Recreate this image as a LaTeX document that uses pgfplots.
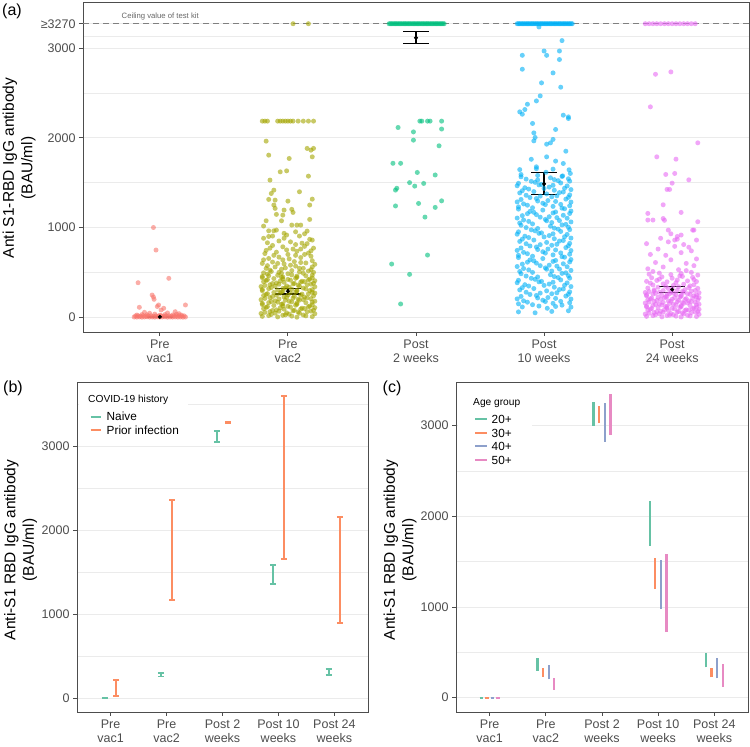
\documentclass[border=0pt]{standalone}
\usepackage{pgfplots}
\pgfplotsset{compat=1.18}
\usepackage{fontspec}
\setmainfont{Liberation Sans}
\definecolor{cA}{HTML}{F8766D}
\definecolor{cB}{HTML}{A3A500}
\definecolor{cC}{HTML}{00BF7D}
\definecolor{cD}{HTML}{00B0F6}
\definecolor{cE}{HTML}{E76BF3}
\definecolor{sG}{HTML}{66C2A5}
\definecolor{sO}{HTML}{FC8D62}
\definecolor{sB}{HTML}{8DA0CB}
\definecolor{sP}{HTML}{E78AC3}
\definecolor{cGrid}{HTML}{EBEBEB}
\definecolor{cFrame}{HTML}{4D4D4D}
\definecolor{cTick}{HTML}{4D4D4D}
\newcommand{\seg}[5]{\addplot[#1,forget plot] coordinates {(#2,#3) (#4,#5)};}
\newcommand{\ebar}[6]{\seg{#1}{#2}{#5}{#2}{#6}\seg{#1}{#3}{#5}{#4}{#5}\seg{#1}{#3}{#6}{#4}{#6}}
\pgfplotsset{
  base/.style={
    scale only axis, xmin=0.4, xmax=5.6, xtick={1,2,3,4,5},
    axis line style={cFrame, line width=0.9pt},
    every tick/.style={cFrame, line width=0.9pt},
    major tick length=4pt, minor tick length=0pt, tick align=outside,
    xtick pos=left, ytick pos=left,
    ymajorgrids, yminorgrids,
    major grid style={cGrid, line width=0.9pt},
    minor grid style={cGrid, line width=0.5pt},
    ticklabel style={font=\fontsize{12.5}{14.3}\selectfont, text=cTick},
    xticklabel style={align=center},
    /pgf/number format/assume math mode=true,
  },
  pts/.style={only marks, color=#1, mark=*, mark size=2.5pt, mark options={draw=#1, fill=#1, draw opacity=0, fill opacity=0.6}, forget plot},
}
\begin{document}
\begin{tikzpicture}[x=1pt,y=1pt]
\path[use as bounding box] (0,0) rectangle (750,747);
% ---------------- panel (a)
\begin{axis}[base, at={(83pt,415pt)}, anchor=south west, width=666pt, height=330pt,
  ymin=-164, ymax=3512, ytick={0,1000,2000,3000,3270}, yticklabels={0,1000,2000,3000,≥3270},
  minor ytick={500,1500,2500,3135},
  xticklabels={Pre\\vac1, Pre\\vac2, Post\\2 weeks, Post\\10 weeks, Post\\24 weeks}]
\addplot[black!50, dash pattern=on 6pt off 4pt, line width=0.9pt, forget plot] coordinates {(0.4,3270) (5.6,3270)};
% Pre vac1
\addplot[pts=cA] coordinates {
(0.80,3)(0.82,2)(0.84,4)(0.86,1)(0.88,3)(0.90,5)(0.92,2)(0.94,3)(0.96,1)(0.98,4)(1.00,2)(1.02,3)(1.04,5)(1.06,1)(1.08,3)(1.10,2)(1.12,4)(1.14,2)(1.16,3)(1.18,1)(1.20,3)
(0.81,14)(0.83,16)(0.85,12)(0.87,18)(0.89,13)(0.91,15)(0.93,17)(0.95,12)(0.97,16)(0.99,14)(1.01,18)(1.03,13)(1.05,15)(1.07,17)(1.09,12)(1.11,16)(1.13,14)(1.15,18)(1.17,13)(1.19,15)
(0.82,25)(0.90,28)(1.00,22)(1.10,26)(1.17,24)(0.86,30)(0.96,35)(1.04,30)(1.13,33)(0.92,45)(1.06,48)(1.15,40)(0.88,55)
(0.95,1000)(0.97,749)(1.07,434)(0.83,385)(0.94,248)(0.95,225)(0.955,200)(0.99,137)(1.20,137)(0.84,111)(1.01,81)(1.12,62)(0.98,120)(1.03,100)
};
% Pre vac2
\addplot[pts=cB] coordinates {
(1.80,10)(1.85,19)(1.92,4)(1.96,22)(2.03,13)(2.07,1)(2.14,16)(2.19,7)
(1.79,42)(1.87,31)(1.90,46)(1.98,27)(2.01,34)(2.09,45)(2.12,25)(2.21,39)
(1.82,55)(1.86,63)(1.93,68)(1.99,49)(2.04,72)(2.08,58)(2.15,62)(2.18,69)
(1.81,96)(1.88,76)(1.91,82)(1.97,90)(2.05,78)(2.10,91)(2.13,97)(2.20,79)
(1.83,110)(1.84,119)(1.94,104)(2.00,122)(2.02,113)(2.11,101)(2.16,116)(2.21,107)
(1.80,142)(1.89,131)(1.95,146)(1.96,127)(2.06,134)(2.07,145)(2.17,125)(2.19,139)
(1.80,155)(1.85,163)(1.92,168)(1.96,149)(2.03,172)(2.07,158)(2.14,162)(2.19,169)
(1.79,196)(1.87,176)(1.90,182)(1.98,190)(2.01,178)(2.09,191)(2.12,197)(2.21,179)
(1.82,210)(1.86,219)(1.93,204)(1.99,222)(2.04,213)(2.08,201)(2.15,216)(2.18,207)
(1.81,242)(1.88,231)(1.91,246)(1.97,227)(2.05,234)(2.10,245)(2.13,225)(2.20,239)
(1.83,255)(1.84,263)(1.94,268)(2.00,249)(2.02,272)(2.11,258)(2.16,262)(2.21,269)
(1.80,296)(1.89,276)(1.95,282)(1.96,290)(2.06,278)(2.07,291)(2.17,297)(2.19,279)
(1.80,310)(1.85,319)(1.92,304)(1.96,322)(2.03,313)(2.07,301)(2.14,316)(2.19,307)
(1.79,342)(1.87,331)(1.90,346)(1.98,327)(2.01,334)(2.09,345)(2.12,325)(2.21,339)
(1.82,355)(1.86,363)(1.93,368)(1.99,349)(2.04,372)(2.08,358)(2.15,362)(2.18,369)
(1.81,396)(1.88,376)(1.91,382)(1.97,390)(2.05,378)(2.10,391)(2.13,397)(2.20,379)
(1.83,410)(1.84,419)(1.94,404)(2.00,422)(2.02,413)(2.11,401)(2.16,416)(2.21,407)
(1.80,442)(1.89,431)(1.95,446)(1.96,427)(2.06,434)(2.07,445)(2.17,425)(2.19,439)
(1.80,455)(1.85,463)(1.92,468)(1.96,449)(2.03,472)(2.07,458)(2.14,462)(2.19,469)
(1.81,495)(1.87,510)(1.95,490)(2.03,520)(2.09,505)(2.16,515)(2.20,500)
(1.83,545)(1.90,560)(1.98,550)(2.06,570)(2.12,545)(2.19,560)
(1.80,600)(1.88,615)(1.97,595)(2.05,620)(2.14,605)(2.21,590)
(1.85,655)(1.93,670)(2.01,650)(2.10,665)(2.18,680)
(1.82,710)(1.91,725)(2.00,700)(2.07,735)(2.16,715)
(1.86,770)(1.96,785)(2.04,760)(2.13,790)(2.20,770)
(1.84,830)(1.93,850)(2.02,840)(2.11,825)(2.19,860)
(1.88,905)(1.99,916)(2.09,905)(2.17,868)(1.81,880)
(1.97,935)(2.06,952)(2.15,960)(1.91,971)
(1.84,480)(1.93,500)(2.00,485)(2.12,490)(2.18,530)(1.86,525)(1.95,535)(2.09,545)(2.02,580)(1.84,575)(1.92,600)(2.10,610)(2.19,630)(1.81,640)(1.96,640)(2.06,690)(1.89,690)(2.13,700)(1.83,745)(1.99,750)(2.10,760)(2.18,740)(1.88,800)(2.06,810)(2.15,820)(1.97,880)(1.85,900)(2.13,930)
(1.85,963)(1.89,963)(2.03,1027)(2.07,1027)(2.10,1027)(2.17,1090)(1.95,1075)(1.81,1016)(1.83,1075)
(1.91,1146)(2.04,1168)(2.03,1202)(1.90,1213)(1.89,1250)(1.90,1305)(2.00,1294)(2.17,1250)(2.19,1316)(2.09,1398)(1.85,1313)(1.87,1379)(1.89,1416)(1.86,1528)(2.16,1572)(1.94,1620)(1.99,1631)(2.19,1787)(2.15,1881)(2.18,1862)(2.20,1881)(2.01,1769)(1.85,1806)(1.83,1962)(1.96,1138)(1.97,1194)
(1.80,2185)(1.82,2185)(1.84,2185)(1.92,2185)(1.94,2185)(1.96,2185)(1.98,2185)(2.00,2185)(2.02,2185)(2.04,2185)(2.08,2185)(2.12,2185)(2.16,2185)(2.20,2185)
(2.04,3270)(2.16,3270)
};
% Post 2 weeks
\addplot[pts=cC] coordinates {
(2.79,3270)(2.81,3270)(2.83,3270)(2.85,3270)(2.87,3270)(2.89,3270)(2.91,3270)(2.93,3270)(2.95,3270)(2.97,3270)(2.99,3270)(3.01,3270)(3.03,3270)(3.05,3270)(3.07,3270)(3.09,3270)(3.11,3270)(3.13,3270)(3.15,3270)(3.17,3270)(3.19,3270)(3.21,3270)
(2.80,3270)(2.82,3270)(2.84,3270)(2.86,3270)(2.88,3270)(2.90,3270)(2.92,3270)(2.94,3270)(2.96,3270)(2.98,3270)(3.00,3270)(3.02,3270)(3.04,3270)(3.06,3270)(3.08,3270)(3.10,3270)(3.12,3270)(3.14,3270)(3.16,3270)(3.18,3270)(3.20,3270)(3.22,3270)
(2.86,2114)(2.98,2065)(2.98,1973)(3.18,1910)(3.20,2097)(3.03,2185)(3.045,2185)(3.09,2185)(3.11,2185)(3.20,2185)(2.82,1715)(2.88,1715)(3.01,1613)(3.15,1585)(2.95,1500)(3.06,1491)(2.99,1461)(2.85,1437)(2.84,1417)(2.84,1240)(3.02,1268)(3.15,1224)(3.20,1297)(3.07,1116)(3.09,693)(2.81,593)(2.95,478)(2.88,148)
};
% Post 10 weeks
\addplot[pts=cD] coordinates {
(3.79,3270)(3.81,3270)(3.83,3270)(3.85,3270)(3.87,3270)(3.89,3270)(3.91,3270)(3.93,3270)(3.95,3270)(3.97,3270)(3.99,3270)(4.01,3270)(4.03,3270)(4.05,3270)(4.07,3270)(4.09,3270)(4.11,3270)(4.13,3270)(4.15,3270)(4.17,3270)(4.19,3270)(4.21,3270)
(3.80,3270)(3.82,3270)(3.84,3270)(3.86,3270)(3.88,3270)(3.90,3270)(3.92,3270)(3.94,3270)(3.96,3270)(3.98,3270)(4.00,3270)(4.02,3270)(4.04,3270)(4.06,3270)(4.08,3270)(4.10,3270)(4.12,3270)(4.14,3270)(4.16,3270)(4.18,3270)(4.20,3270)(4.22,3270)
(3.96,3234)
(4.14,3082)(4.00,2966)(4.02,2918)(4.12,2966)(4.12,2871)(3.83,2918)(3.83,2763)(4.07,2722)(4.13,2563)(3.98,2611)(3.97,2466)(3.94,2410)(3.87,2373)(3.85,2314)(3.81,2288)(3.83,2262)(4.15,2251)(4.19,2232)(4.19,2214)(3.91,2159)(4.09,2092)(3.92,2054)(3.93,2003)(3.92,1965)(4.07,1981)(4.05,1943)(4.02,1928)(4.17,1850)(4.02,1787)(3.90,1760)(4.09,1740)(3.94,1676)(4.15,1713)
(3.80,60)(3.93,50)(4.06,65)(4.19,72)
(3.83,115)(3.96,125)(4.025,100)(4.09,120)(4.21,113)
(3.80,150)(3.87,168)(3.91,140)(4.01,175)(4.07,155)(4.14,135)(4.20,162)
(3.79,205)(3.84,183)(3.95,215)(3.99,190)(4.09,210)(4.13,177)(4.21,203)
(3.82,232)(3.89,254)(3.94,243)(4.03,220)(4.06,262)(4.17,236)(4.19,256)
(3.81,305)(3.86,279)(3.97,269)(4.02,294)(4.10,273)(4.12,309)(4.20,283)
(3.83,330)(3.88,348)(3.92,320)(4.00,355)(4.08,335)(4.15,315)(4.21,342)
(3.79,385)(3.85,363)(3.96,395)(4.04,370)(4.07,390)(4.16,357)(4.18,383)
(3.80,412)(3.90,434)(3.93,423)(3.98,400)(4.11,442)(4.13,416)(4.20,436)
(3.82,485)(3.86,459)(3.95,449)(4.05,474)(4.08,453)(4.14,489)(4.19,463)
(3.81,510)(3.88,528)(3.91,500)(4.02,535)(4.06,515)(4.17,495)(4.21,522)
(3.79,565)(3.84,543)(3.97,575)(4.01,550)(4.10,570)(4.12,537)(4.18,563)
(3.83,592)(3.87,614)(3.94,603)(4.04,580)(4.07,622)(4.15,596)(4.20,616)
(3.80,665)(3.89,639)(3.92,629)(3.99,654)(4.09,633)(4.16,669)(4.21,643)
(3.80,690)(3.87,708)(3.91,680)(4.01,715)(4.07,695)(4.14,675)(4.20,702)
(3.79,745)(3.84,723)(3.95,755)(3.99,730)(4.09,750)(4.13,717)(4.21,743)
(3.82,772)(3.89,794)(3.94,783)(4.03,760)(4.06,802)(4.17,776)(4.19,796)
(3.81,845)(3.86,819)(3.97,809)(4.02,834)(4.10,813)(4.12,849)(4.20,823)
(3.83,870)(3.88,888)(3.92,860)(4.00,895)(4.08,875)(4.15,855)(4.21,882)
(3.79,925)(3.85,903)(3.96,935)(4.04,910)(4.07,930)(4.16,897)(4.18,923)
(3.80,952)(3.90,974)(3.93,963)(3.98,940)(4.11,982)(4.13,956)(4.20,976)
(3.82,1025)(3.86,999)(3.95,989)(4.05,1014)(4.08,993)(4.14,1029)(4.19,1003)
(3.81,1050)(3.88,1068)(3.91,1040)(4.02,1075)(4.06,1055)(4.17,1035)(4.21,1062)
(3.79,1105)(3.84,1083)(3.97,1115)(4.01,1090)(4.10,1110)(4.12,1077)(4.18,1103)
(3.83,1132)(3.87,1154)(3.94,1143)(4.04,1120)(4.07,1162)(4.15,1136)(4.20,1156)
(3.80,1205)(3.89,1179)(3.92,1169)(3.99,1194)(4.09,1173)(4.16,1209)(4.21,1183)
(3.80,1230)(3.87,1248)(3.91,1220)(4.01,1255)(4.07,1235)(4.14,1215)(4.20,1242)
(3.79,1285)(3.84,1263)(3.95,1295)(3.99,1270)(4.09,1290)(4.13,1257)(4.21,1283)
(3.82,1312)(3.89,1334)(3.94,1323)(4.03,1300)(4.06,1342)(4.17,1316)(4.19,1336)
(3.81,1385)(3.86,1359)(3.97,1349)(4.02,1374)(4.10,1353)(4.12,1389)(4.20,1363)
(3.83,1410)(3.88,1428)(3.92,1400)(4.00,1435)(4.08,1415)(4.15,1395)(4.21,1422)
(3.79,1465)(3.85,1443)(3.96,1475)(4.04,1450)(4.07,1470)(4.16,1437)(4.18,1463)
(3.80,1492)(3.90,1514)(3.93,1503)(3.98,1480)(4.11,1522)(4.13,1496)(4.20,1516)
(3.82,1565)(3.86,1539)(3.95,1529)(4.05,1554)(4.08,1533)(4.14,1569)(4.19,1543)
(3.82,1590)(3.95,1580)(4.015,1615)(4.145,1575)(4.205,1602)
(3.81,1645)(3.94,1655)(4.07,1650)(4.195,1643)
};
% Post 24 weeks
\addplot[pts=cE] coordinates {
(4.79,3270)(4.82,3270)(4.85,3270)(4.88,3270)(4.91,3270)(4.94,3270)(4.97,3270)(5.00,3270)(5.03,3270)(5.06,3270)(5.09,3270)(5.12,3270)(5.15,3270)(5.18,3270)
(4.87,2707)(4.99,2733)(4.83,2344)(5.20,1943)(4.88,1787)(5.03,1761)(4.95,1591)(5.02,1602)(5.13,1531)(5.00,1494)(4.96,1424)(4.98,1424)(4.93,1253)(5.07,1168)(4.81,1157)(4.81,1083)(4.85,1083)(4.93,1100)(4.94,1080)(5.20,1064)(5.16,971)(5.17,971)(4.97,971)(4.99,930)(5.02,860)(5.04,900)(5.07,916)
(4.81,540)(4.93,560)(5.05,530)(5.17,575)(4.87,610)(4.99,640)(5.11,600)(5.19,650)(4.83,700)(4.95,690)(5.07,720)(5.15,740)(4.89,760)(5.02,790)(5.13,780)(4.80,820)(4.97,840)(5.09,810)(5.19,860)(4.91,880)(5.04,870)
(4.81,325)(4.89,335)(4.97,320)(5.05,340)(5.13,330)(5.20,322)
(4.85,360)(4.93,372)(5.01,355)(5.09,368)(5.17,362)
(4.80,400)(4.88,410)(4.96,395)(5.04,415)(5.12,405)(5.19,398)
(4.84,440)(4.92,450)(5.00,435)(5.08,455)(5.16,445)
(4.82,480)(4.90,492)(4.99,475)(5.07,488)(5.15,500)(5.20,470)
(4.86,305)(5.00,312)(5.10,308)(4.95,345)(5.14,350)(4.83,380)(5.03,385)(5.17,420)(4.90,425)(5.06,460)(4.85,510)(5.11,520)
(4.80,10)(4.85,18)(4.92,5)(4.96,20)(5.03,13)(5.07,3)(5.14,15)(5.19,8)
(4.79,36)(4.87,27)(4.90,39)(4.98,23)(5.01,29)(5.09,38)(5.12,22)(5.21,33)
(4.82,46)(4.86,53)(4.93,57)(4.99,41)(5.04,60)(5.08,48)(5.15,52)(5.18,58)
(4.81,79)(4.88,63)(4.91,67)(4.97,74)(5.05,64)(5.10,75)(5.13,80)(5.20,65)
(4.83,90)(4.84,98)(4.94,85)(5.00,100)(5.02,93)(5.11,83)(5.16,95)(5.21,88)
(4.80,116)(4.89,107)(4.95,119)(4.96,103)(5.06,109)(5.07,118)(5.17,102)(5.19,113)
(4.80,126)(4.85,133)(4.92,137)(4.96,121)(5.03,140)(5.07,128)(5.14,132)(5.19,138)
(4.79,159)(4.87,143)(4.90,147)(4.98,154)(5.01,144)(5.09,155)(5.12,160)(5.21,145)
(4.82,170)(4.86,178)(4.93,165)(4.99,180)(5.04,173)(5.08,163)(5.15,175)(5.18,168)
(4.81,196)(4.88,187)(4.91,199)(4.97,183)(5.05,189)(5.10,198)(5.13,182)(5.20,193)
(4.83,206)(4.84,213)(4.94,217)(5.00,201)(5.02,220)(5.11,208)(5.16,212)(5.21,218)
(4.80,239)(4.89,223)(4.95,227)(4.96,234)(5.06,224)(5.07,235)(5.17,240)(5.19,225)
(4.80,250)(4.85,258)(4.92,245)(4.96,260)(5.03,253)(5.07,243)(5.14,255)(5.19,248)
(4.79,276)(4.87,267)(4.90,279)(4.98,263)(5.01,269)(5.09,278)(5.12,262)(5.21,273)
(4.82,286)(4.86,293)(4.93,297)(4.99,281)(5.04,300)(5.08,288)(5.15,292)(5.18,298)
};
% mean and 95% CI
\ebar{black,line width=1.2pt}{1}{0.9}{1.1}{0}{12}
\ebar{black,line width=1.2pt}{2}{1.9}{2.1}{260}{320}
\ebar{black,line width=1.2pt}{3}{2.9}{3.1}{3051}{3181}
\ebar{black,line width=1.2pt}{4}{3.9}{4.1}{1368}{1609}
\ebar{black,line width=1.2pt}{5}{4.9}{5.1}{275}{346}
\addplot[only marks, mark=*, mark size=1.8pt, black, forget plot] coordinates {(1,5)(2,290)(3,3114)(4,1486)(5,309)};
\end{axis}
% ---------------- panel (b)
\begin{axis}[base, at={(77pt,35pt)}, anchor=south west, width=291pt, height=330pt,
  ymin=-167, ymax=3762, ytick={0,1000,2000,3000}, yticklabels={0,1000,2000,3000},
  minor ytick={500,1500,2500,3500},
  xticklabels={Pre\\vac1, Pre\\vac2, Post 2\\weeks, Post 10\\weeks, Post 24\\weeks}]
\ebar{sG,line width=1.8pt}{0.9}{0.845}{0.955}{0}{5}
\ebar{sG,line width=1.8pt}{1.9}{1.845}{1.955}{255}{300}
\ebar{sG,line width=1.8pt}{2.9}{2.845}{2.955}{3044}{3179}
\ebar{sG,line width=1.8pt}{3.9}{3.845}{3.955}{1353}{1587}
\ebar{sG,line width=1.8pt}{4.9}{4.845}{4.955}{270}{341}
\ebar{sO,line width=1.8pt}{1.1}{1.045}{1.155}{25}{215}
\ebar{sO,line width=1.8pt}{2.1}{2.045}{2.155}{1167}{2357}
\ebar{sO,line width=1.8pt}{3.1}{3.045}{3.155}{3272}{3282}
\ebar{sO,line width=1.8pt}{4.1}{4.045}{4.155}{1651}{3595}
\ebar{sO,line width=1.8pt}{5.1}{5.045}{5.155}{889}{2159}
\end{axis}
% ---------------- panel (c)
\begin{axis}[base, at={(456pt,35pt)}, anchor=south west, width=292pt, height=330pt,
  ymin=-158, ymax=3482, ytick={0,1000,2000,3000}, yticklabels={0,1000,2000,3000},
  minor ytick={500,1500,2500},
  xticklabels={Pre\\vac1, Pre\\vac2, Post 2\\weeks, Post 10\\weeks, Post 24\\weeks}]
\seg{sG,line width=1.8pt}{0.82}{0}{0.88}{0}
\seg{sO,line width=1.8pt}{0.92}{0}{0.98}{0}
\seg{sB,line width=1.8pt}{1.02}{0}{1.08}{0}
\seg{sP,line width=1.8pt}{1.12}{0}{1.18}{0}
\seg{sG,line width=2.2pt}{1.85}{298}{1.85}{435}
\seg{sO,line width=2.2pt}{1.95}{232}{1.95}{324}
\seg{sB,line width=2.2pt}{2.05}{203}{2.05}{361}
\seg{sP,line width=2.2pt}{2.15}{85}{2.15}{214}
\seg{sG,line width=2.2pt}{2.85}{2999}{2.85}{3262}
\seg{sO,line width=2.2pt}{2.95}{3029}{2.95}{3215}
\seg{sB,line width=2.2pt}{3.05}{2825}{3.05}{3245}
\seg{sP,line width=2.2pt}{3.15}{2897}{3.15}{3345}
\seg{sG,line width=2.2pt}{3.85}{1674}{3.85}{2174}
\seg{sO,line width=2.2pt}{3.95}{1196}{3.95}{1538}
\seg{sB,line width=2.2pt}{4.05}{976}{4.05}{1520}
\seg{sP,line width=2.2pt}{4.15}{722}{4.15}{1583}
\seg{sG,line width=2.2pt}{4.85}{335}{4.85}{497}
\seg{sO,line width=2.2pt}{4.95}{225}{4.95}{331}
\seg{sB,line width=2.2pt}{5.05}{214}{5.05}{435}
\seg{sP,line width=2.2pt}{5.15}{121}{5.15}{369}
\end{axis}
% ---------------- annotations
\node[font=\fontsize{16}{18}\selectfont] at (12,736) {(a)};
\node[font=\fontsize{16}{18}\selectfont] at (13,359) {(b)};
\node[font=\fontsize{16}{18}\selectfont] at (392,359) {(c)};
\node[rotate=90, align=center, font=\fontsize{15.5}{18.5}\selectfont] at (19,579) {Anti S1-RBD IgG antibody\\(BAU/ml)};
\node[rotate=90, align=center, font=\fontsize{15.5}{18.5}\selectfont] at (20.5,197) {Anti-S1 RBD IgG antibody\\(BAU/ml)};
\node[rotate=90, align=center, font=\fontsize{15.5}{18.5}\selectfont] at (400,197) {Anti-S1 RBD IgG antibody\\(BAU/ml)};
\node[anchor=west, inner sep=0, text=black!60, font=\fontsize{7.7}{9}\selectfont] at (121.5,730) {Ceiling value of test kit};
% legend (b)
\fill[white] (78.5,307) rectangle (188,363);
\node[anchor=base west, inner sep=0, font=\fontsize{10.2}{12}\selectfont] at (88,344.7) {COVID-19 history};
\draw[sG, line width=2pt] (90.7,330.3) -- (100.7,330.3);
\node[anchor=west, inner sep=0, font=\fontsize{11.8}{14}\selectfont] at (106.5,330.3) {Naive};
\draw[sO, line width=2pt] (90.7,317) -- (100.7,317);
\node[anchor=west, inner sep=0, font=\fontsize{11.8}{14}\selectfont] at (106.5,317) {Prior infection};
% legend (c)
\fill[white] (458,277) rectangle (532,362);
\node[anchor=base west, inner sep=0, font=\fontsize{10.2}{12}\selectfont] at (473,341) {Age group};
\draw[sG, line width=2pt] (475,327.7) -- (486.7,327.7);
\node[anchor=west, inner sep=0, font=\fontsize{11.8}{14}\selectfont] at (491.5,327.7) {20+};
\draw[sO, line width=2pt] (475,314) -- (486.7,314);
\node[anchor=west, inner sep=0, font=\fontsize{11.8}{14}\selectfont] at (491.5,314) {30+};
\draw[sB, line width=2pt] (475,300.5) -- (486.7,300.5);
\node[anchor=west, inner sep=0, font=\fontsize{11.8}{14}\selectfont] at (491.5,300.5) {40+};
\draw[sP, line width=2pt] (475,287) -- (486.7,287);
\node[anchor=west, inner sep=0, font=\fontsize{11.8}{14}\selectfont] at (491.5,287) {50+};
\end{tikzpicture}
\end{document}
